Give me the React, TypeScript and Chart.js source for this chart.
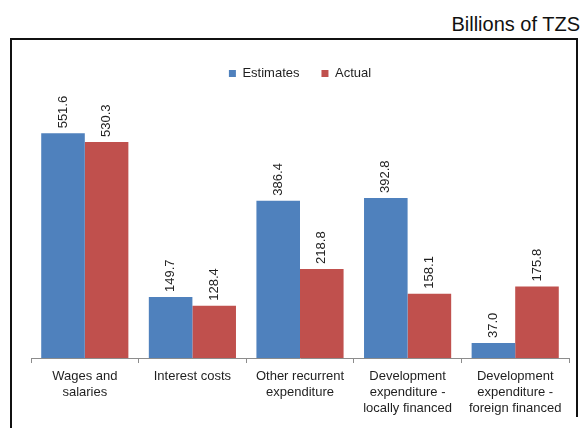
import React, { useEffect, useRef } from "react";
import { Chart, registerables } from "chart.js";

Chart.register(...registerables);

const categories: string[][] = [
  ["Wages and", "salaries"],
  ["Interest costs"],
  ["Other recurrent", "expenditure"],
  ["Development", "expenditure -", "locally financed"],
  ["Development", "expenditure -", "foreign financed"],
];
const estimates: number[] = [551.6, 149.7, 386.4, 392.8, 37.0];
const actual: number[] = [530.3, 128.4, 218.8, 158.1, 175.8];
const seriesNames: string[] = ["Estimates", "Actual"];
const unitTitle = "Billions of TZS";

const FONT = "'Liberation Sans', Arial, Helvetica, sans-serif";

const valueLabels = {
  id: "valueLabels",
  afterDatasetsDraw(chart: any) {
    const ctx = chart.ctx;
    ctx.save();
    ctx.font = `13px ${FONT}`;
    ctx.fillStyle = "#1f1f1f";
    ctx.textAlign = "left";
    ctx.textBaseline = "middle";
    chart.data.datasets.forEach((ds: any, di: number) => {
      const meta = chart.getDatasetMeta(di);
      meta.data.forEach((bar: any, i: number) => {
        const v = ds.data[i] as number;
        ctx.save();
        ctx.translate(bar.x, bar.y - 5);
        ctx.rotate(-Math.PI / 2);
        ctx.fillText(v.toFixed(1), 0, 0);
        ctx.restore();
      });
    });
    ctx.restore();
  },
};

export default function App() {
  const ref = useRef<HTMLCanvasElement | null>(null);
  useEffect(() => {
    if (!ref.current) return;
    const chart = new Chart(ref.current, {
      type: "bar",
      data: {
        labels: categories,
        datasets: [
          { label: seriesNames[0], data: estimates, backgroundColor: "#4F81BD" },
          { label: seriesNames[1], data: actual, backgroundColor: "#C0504D" },
        ],
      },
      plugins: [valueLabels],
      options: {
        animation: false,
        responsive: true,
        maintainAspectRatio: false,
        layout: { padding: { left: 19, right: 8, top: 5, bottom: 7 } },
        datasets: { bar: { barPercentage: 1, categoryPercentage: 0.81 } },
        plugins: {
          legend: {
            position: "top",
            labels: {
              boxWidth: 7,
              boxHeight: 7,
              padding: 22,
              color: "#1f1f1f",
              font: { family: FONT, size: 13 },
            },
          },
          tooltip: { enabled: false },
        },
        scales: {
          x: {
            grid: {
              offset: true,
              drawOnChartArea: false,
              drawTicks: true,
              tickLength: 5,
              color: "#8c8c8c",
            },
            border: { display: true, color: "#8c8c8c", width: 1 },
            ticks: {
              color: "#1f1f1f",
              padding: 5,
              maxRotation: 0,
              autoSkip: false,
              font: { family: FONT, size: 13, lineHeight: 1.23 },
            },
          },
          y: { display: false, min: 0, max: 658 },
        },
      },
    });
    return () => chart.destroy();
  }, []);

  return (
    <div style={{ position: "fixed", left: 0, top: 0, width: 583, height: 428, background: "#fff", overflow: "hidden" }}>
      <div
        style={{
          position: "absolute",
          right: 3,
          top: 12,
          fontFamily: FONT,
          fontSize: 20,
          color: "#111",
          lineHeight: "24px",
        }}
      >
        {unitTitle}
      </div>
      <div style={{ position: "absolute", left: 12, top: 40, width: 565, height: 388 }}>
        <canvas ref={ref} />
      </div>
      <div
        style={{
          position: "absolute",
          left: 10,
          top: 38,
          width: 565,
          height: 400,
          borderLeft: "2px solid #111",
          borderTop: "2px solid #111",
          pointerEvents: "none",
        }}
      />
      <div
        style={{
          position: "absolute",
          left: 576,
          top: 38,
          width: 2,
          height: 379,
          background: "#111",
          pointerEvents: "none",
        }}
      />
    </div>
  );
}
